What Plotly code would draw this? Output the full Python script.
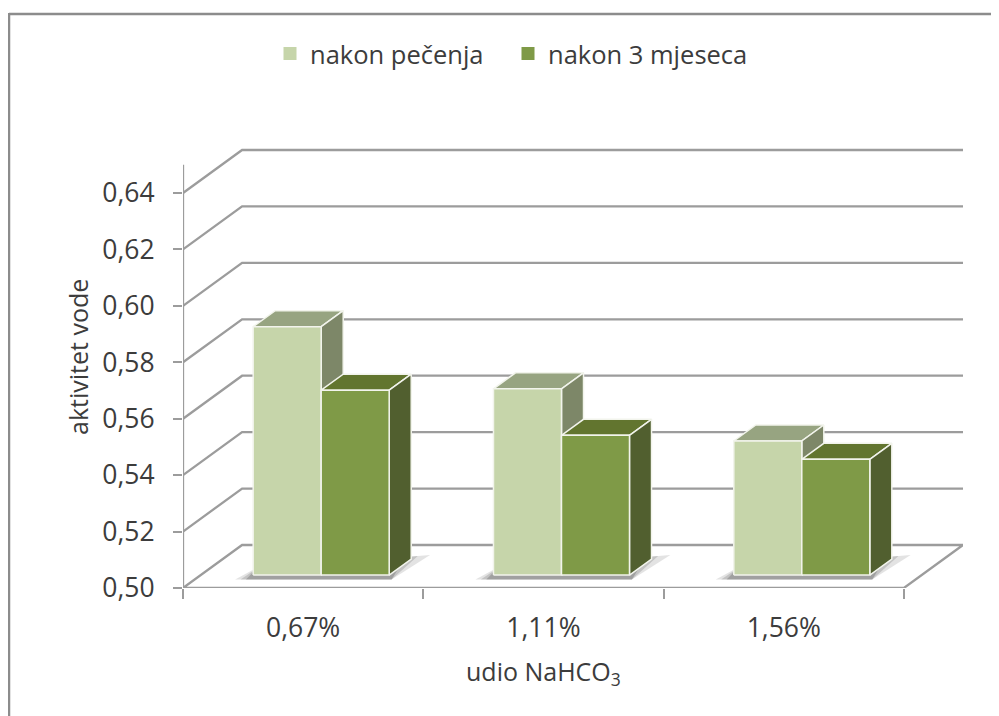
"""Stupičasti graf: aktivitet vode"""

import plotly.graph_objects as go

categories = ["0,67%", "1,11%", "1,56%"]
nakon_pecenja = [0.588, 0.566, 0.5475]
nakon_3_mjeseca = [0.5655, 0.5495, 0.541]
y_ticks = [0.50, 0.52, 0.54, 0.56, 0.58, 0.60, 0.62, 0.64]
y_labels = ["0,50", "0,52", "0,54", "0,56", "0,58", "0,60", "0,62", "0,64"]

FONT = "Open Sans"
TEXT = "#3c3c3c"
GRID = "#9c9c9c"

# kosa projekcija: pomak dubine u jedinicama osi
WALL_DX, WALL_DY = 59 / 240, 0.01524
BAR_DX, BAR_DY = 22 / 240, 0.00567
FLOOR_DX, FLOOR_DY = 0.075, 0.0046
BAR_W = 0.283
Y_TOP = 0.65

# stranica ima marginu od 8 px, pa je figura manja od prozora
PAGE = 8
W, H = 999 - PAGE, 716 - PAGE
L, T, R, B = 183 - PAGE, 147 - PAGE, 36, 128


def px(x):
    return (x - PAGE - L) / (W - L - R)


def py(y):
    return (H - B - (y - PAGE)) / (H - T - B)


fig = go.Figure()


def poly(xs, ys, color, line=None, width=1.5):
    fig.add_trace(go.Scatter(
        x=xs, y=ys, mode="lines", fill="toself", fillcolor=color,
        line=dict(color=line or color, width=width),
        showlegend=False, hoverinfo="skip", cliponaxis=False,
    ))


def path(xs, ys, width=2.3):
    fig.add_trace(go.Scatter(
        x=xs, y=ys, mode="lines", line=dict(color=GRID, width=width),
        showlegend=False, hoverinfo="skip", cliponaxis=False,
    ))


def bar(x0, v, front, top, side):
    x1 = x0 + BAR_W
    y0 = 0.5 + FLOOR_DY
    y1 = v + FLOOR_DY
    poly([x0, x0 + BAR_DX, x1 + BAR_DX, x1, x0],
         [y1, y1 + BAR_DY, y1 + BAR_DY, y1, y1], top, "#f2f4ec")
    poly([x1, x1 + BAR_DX, x1 + BAR_DX, x1, x1],
         [y0, y0 + BAR_DY, y1 + BAR_DY, y1, y0], side, "#f2f4ec")
    poly([x0, x1, x1, x0, x0], [y0, y0, y1, y1, y0], front, "#f2f4ec")


# stražnji zid i lijeva strana
for t in y_ticks[1:]:
    path([0, WALL_DX, 3 + WALL_DX], [t, t + WALL_DY, t + WALL_DY])

# pod
base = y_ticks[0]
path([0, WALL_DX, 3 + WALL_DX, 3, 0],
     [base, base + WALL_DY, base + WALL_DY, base, base])

for i in range(len(categories)):
    c = i + 0.5 + FLOOR_DX
    # sjena na podu, nekoliko prozirnih slojeva
    for grow, alpha in [(1.0, 0.16), (0.7, 0.22), (0.4, 0.3)]:
        xl = c - BAR_W - 0.075 * grow
        xr = c + BAR_W + 0.17 * grow
        poly([xl, c - BAR_W, xr, c + BAR_W + 0.01, xl],
             [0.503, 0.505 + 0.0015 * grow, 0.5105 + 0.0012 * grow, 0.503, 0.503],
             f"rgba(80,80,80,{alpha})", "rgba(0,0,0,0)", 0)
    bar(c - BAR_W, nakon_pecenja[i], "#c6d5aa", "#97a481", "#7d8768")
    bar(c, nakon_3_mjeseca[i], "#7f9a47", "#62752f", "#515f2f")

path([0, 0], [base, Y_TOP])

# samo za legendu
for name, color in [("nakon pečenja", "#c6d5aa"), ("nakon 3 mjeseca", "#7f9a47")]:
    fig.add_trace(go.Scatter(
        x=[None], y=[None], mode="markers", name=name,
        marker=dict(symbol="square", size=13, color=color),
    ))

fig.update_layout(
    width=W, height=H, autosize=False,
    margin=dict(l=L, t=T, r=R, b=B),
    paper_bgcolor="white", plot_bgcolor="white",
    font=dict(family=FONT, size=26.5, color=TEXT),
    legend=dict(
        orientation="h", x=px(270), y=py(54), xanchor="left", yanchor="middle",
        font=dict(size=25.5), itemwidth=30, entrywidth=193, entrywidthmode="pixels",
        bgcolor="rgba(0,0,0,0)",
    ),
    xaxis=dict(
        range=[0, 3 + WALL_DX], showgrid=False, zeroline=False,
        tickvals=[0.5, 1.5, 2.5], ticktext=categories, ticks="",
        ticklabelstandoff=21,
        minor=dict(tickvals=[0, 1, 2, 3], ticks="outside", ticklen=10,
                   tickwidth=2.3, tickcolor=GRID, showgrid=False),
    ),
    yaxis=dict(
        range=[base, base + 441 / 56.43 * 0.02], showgrid=False, zeroline=False,
        tickvals=y_ticks, ticktext=y_labels, ticks="outside", ticklen=9,
        tickwidth=2.3, tickcolor=GRID, ticklabelstandoff=13,
    ),
    annotations=[
        dict(text="udio NaHCO<sub>3</sub>", xref="x", yref="paper", x=1.5, y=py(672),
             xanchor="center", yanchor="middle", showarrow=False, font=dict(size=25)),
        dict(text="aktivitet vode", xref="paper", yref="paper", x=px(78), y=py(357),
             xanchor="center", yanchor="middle", textangle=-90, showarrow=False,
             font=dict(size=25)),
    ],
    shapes=[
        dict(type="line", xref="paper", yref="paper", x0=px(9), x1=px(999),
             y0=py(14), y1=py(14), line=dict(color="#8c8c8c", width=2.5)),
        dict(type="line", xref="paper", yref="paper", x0=px(9), x1=px(9),
             y0=py(13), y1=py(716), line=dict(color="#8c8c8c", width=2.5)),
    ],
)

fig.write_html("out.html")
